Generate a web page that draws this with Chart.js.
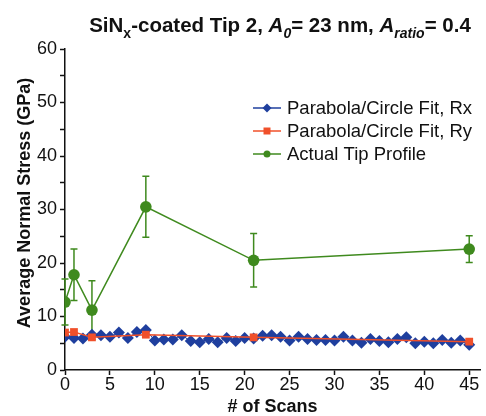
<!DOCTYPE html>
<html>
<head>
<meta charset="utf-8">
<script src="https://cdn.jsdelivr.net/npm/chart.js@4/dist/chart.umd.min.js"></script>
<style>
html,body{margin:0;padding:0;background:#fff;}
#wrap{position:relative;width:486px;height:416px;}
</style>
</head>
<body>
<div id="wrap"><canvas id="c" width="486" height="416"></canvas></div>
<script>
// ---- data ----
const scans = [0,1,2,3,4,5,6,7,8,9,10,11,12,13,14,15,16,17,18,19,20,21,22,23,24,25,26,27,28,29,30,31,32,33,34,35,36,37,38,39,40,41,42,43,44,45];
const rxValues = [6.2,6.0,5.9,6.6,6.5,6.2,7.0,6.0,7.1,7.5,5.5,5.7,5.7,6.5,5.4,5.2,5.8,5.2,6.0,5.4,6.0,5.9,6.4,6.5,6.2,5.5,6.2,5.8,5.6,5.6,5.5,6.2,5.5,5.1,5.8,5.4,5.2,5.8,6.1,5.0,5.3,5.0,5.6,5.1,5.5,4.7];
const ryScans = [0,1,3,9,21,45];
const ryValues = [7.0,7.1,6.1,6.6,6.1,5.3];
const tipScans = [0,1,3,9,21,45];
const tipValues = [12.7,17.8,11.2,30.5,20.5,22.6];
const tipErrors = [4.3,4.8,5.5,5.7,5.0,2.5];
const xTicks = [0,5,10,15,20,25,30,35,40,45];
const yMajorTicks = [0,10,20,30,40,50,60];
const seriesNames = ['Parabola/Circle Fit, Rx','Parabola/Circle Fit, Ry','Actual Tip Profile'];
const yAxisTitle = 'Average Normal Stress (GPa)';
const xAxisTitle = '# of Scans';

const BLUE = '#1f3f9e', RED = '#f0502a', GREEN = '#3f8a1e';
const FONT = '"Liberation Sans", Arial, sans-serif';

const toPts = (xs, ys) => xs.map((x,i)=>({x:x, y:ys[i]}));

const errorBarPlugin = {
  id:'errorBars',
  beforeDatasetsDraw(chart){
    const ctx = chart.ctx, xs = chart.scales.x, ys = chart.scales.y;
    ctx.save();
    ctx.strokeStyle = GREEN; ctx.lineWidth = 1.5;
    tipScans.forEach((sx,i)=>{
      const px = xs.getPixelForValue(sx);
      const top = ys.getPixelForValue(tipValues[i]+tipErrors[i]);
      const bot = ys.getPixelForValue(tipValues[i]-tipErrors[i]);
      ctx.beginPath();
      ctx.moveTo(px, top); ctx.lineTo(px, bot);
      ctx.moveTo(px-3.5, top); ctx.lineTo(px+3.5, top);
      ctx.moveTo(px-3.5, bot); ctx.lineTo(px+3.5, bot);
      ctx.stroke();
    });
    ctx.restore();
  }
};

function marker(ctx, kind, x, y, r, color){
  ctx.fillStyle = color;
  ctx.beginPath();
  if(kind==='diamond'){ ctx.moveTo(x,y-r); ctx.lineTo(x+r,y); ctx.lineTo(x,y+r); ctx.lineTo(x-r,y); ctx.closePath(); }
  else if(kind==='square'){ ctx.rect(x-r,y-r,2*r,2*r); }
  else { ctx.arc(x,y,r,0,Math.PI*2); }
  ctx.fill();
}

const decorPlugin = {
  id:'decor',
  afterDraw(chart){
    const ctx = chart.ctx;
    ctx.save();
    // title with subscripts
    const M = 'bold 20.5px '+FONT, MI = 'italic bold 20.5px '+FONT;
    const S = 'bold 14px '+FONT, SI = 'italic bold 14px '+FONT;
    const runs = [
      {t:'SiN', f:M, dy:0},
      {t:'x', f:S, dy:6},
      {t:'-coated Tip 2, ', f:M, dy:0},
      {t:'A', f:MI, dy:0},
      {t:'0', f:SI, dy:6},
      {t:'= 23 nm, ', f:M, dy:0},
      {t:'A', f:MI, dy:0},
      {t:'ratio', f:SI, dy:6},
      {t:'= 0.4', f:M, dy:0}
    ];
    let total = 0;
    runs.forEach(r=>{ctx.font=r.f; r.w=ctx.measureText(r.t).width; total+=r.w;});
    let x = 280 - total/2;
    ctx.fillStyle = '#111'; ctx.textBaseline='alphabetic'; ctx.textAlign='left';
    runs.forEach(r=>{ctx.font=r.f; ctx.fillText(r.t, x, 32+r.dy); x+=r.w;});

    // y axis title
    ctx.save();
    ctx.translate(25, 203);
    ctx.rotate(-Math.PI/2);
    ctx.font = 'bold 18px '+FONT;
    ctx.textAlign='center'; ctx.textBaseline='middle';
    ctx.fillText(yAxisTitle, 0, 0);
    ctx.restore();

    // legend
    const rows = [
      {c:BLUE, k:'diamond', r:4.5},
      {c:RED, k:'square', r:3.5},
      {c:GREEN, k:'circle', r:3.5}
    ];
    ctx.font = '18.5px '+FONT; ctx.textAlign='left'; ctx.textBaseline='middle';
    rows.forEach((row,i)=>{
      const yy = 108 + i*23;
      ctx.strokeStyle = row.c; ctx.lineWidth = 1.5;
      ctx.beginPath(); ctx.moveTo(253,yy); ctx.lineTo(281,yy); ctx.stroke();
      marker(ctx, row.k, 267, yy, row.r, row.c);
      ctx.fillStyle = '#111';
      ctx.fillText(seriesNames[i], 287, yy+1);
    });
    ctx.restore();
  }
};

new Chart(document.getElementById('c'), {
  type:'scatter',
  data:{
    datasets:[
      {label:seriesNames[0], data:toPts(scans, rxValues), showLine:true, borderColor:BLUE, borderWidth:1,
       backgroundColor:BLUE, pointStyle:'rectRot', pointRadius:6, pointBorderWidth:0, order:3},
      {label:seriesNames[1], data:toPts(ryScans, ryValues), showLine:true, borderColor:RED, borderWidth:1.5,
       backgroundColor:RED, pointStyle:'rect', pointRadius:5.5, pointBorderWidth:0, order:2},
      {label:seriesNames[2], data:toPts(tipScans, tipValues), showLine:true, borderColor:GREEN, borderWidth:1.5,
       backgroundColor:GREEN, pointStyle:'circle', pointRadius:5.8, pointBorderWidth:0, order:1}
    ]
  },
  options:{
    responsive:false, animation:false, devicePixelRatio:1,
    layout:{padding:{top:49, left:0, right:0, bottom:0}},
    plugins:{legend:{display:false}, tooltip:{enabled:false}, title:{display:false}},
    scales:{
      x:{
        type:'linear', min:0, max:46.2,
        afterBuildTicks(s){ s.ticks = xTicks.map(v=>({value:v})); },
        afterFit(s){ s.height = 46; },
        grid:{drawOnChartArea:false, drawTicks:true, tickLength:5, color:'#111', tickWidth:1.5},
        border:{display:true, color:'#111', width:1.5},
        ticks:{font:{family:FONT, size:18, lineHeight:1}, color:'#111', padding:1, maxRotation:0, autoSkip:false},
        title:{display:true, text:xAxisTitle, color:'#111', font:{family:FONT, size:18, weight:'bold', lineHeight:1}, padding:{top:0,bottom:0}}
      },
      y:{
        type:'linear', min:0, max:60,
        ticks:{stepSize:5, font:{family:FONT, size:18, lineHeight:1}, color:'#111', padding:3,
               callback:(v)=> yMajorTicks.includes(v) ? String(v) : ''},
        afterFit(s){ s.width = 65; },
        grid:{drawOnChartArea:false, drawTicks:true, tickLength:5, color:'#111', tickWidth:1.5},
        border:{display:true, color:'#111', width:1.5}
      }
    }
  },
  plugins:[errorBarPlugin, decorPlugin]
});
</script>
</body>
</html>
